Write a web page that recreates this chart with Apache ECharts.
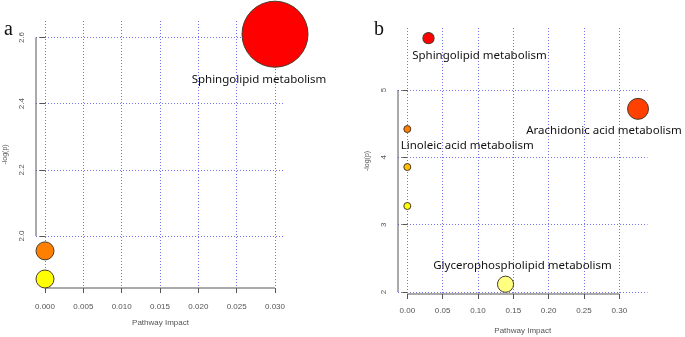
<!DOCTYPE html>
<html>
<head>
<meta charset="utf-8">
<script src="https://cdn.jsdelivr.net/npm/echarts@6/dist/echarts.min.js"></script>
<style>
  html, body { margin: 0; padding: 0; background: #fff; }
  #chart { width: 685px; height: 337px; }
</style>
</head>
<body>
<div id="chart"></div>
<script>
// panel a
const impactA = [0.030, 0.000, 0.000];
const logpA = [2.61, 1.955, 1.870];
const labelsA = ["Sphingolipid metabolism", null, null];
const xTicksA = [0, 0.005, 0.01, 0.015, 0.02, 0.025, 0.03];
const yTicksA = [2.0, 2.2, 2.4, 2.6];

// panel b
const impactB = [0.030, 0.3265, 0.000, 0.000, 0.000, 0.139];
const logpB = [5.77, 4.72, 4.42, 3.856, 3.277, 2.115];
const labelsB = [
  "Sphingolipid metabolism",
  "Arachidonic acid metabolism",
  "Linoleic acid metabolism",
  null,
  null,
  "Glycerophospholipid metabolism",
];
const xTicksB = [0, 0.05, 0.1, 0.15, 0.2, 0.25, 0.3];
const yTicksB = [2, 3, 4, 5];

// plot ranges: tick range plus R's 4% padding around the data
const xRangeA = [-0.001174, 0.031304];
const yRangeA = [1.8428, 2.6499];
const xRangeB = [-0.01316, 0.3399];
const yRangeB = [1.970, 5.921];

// R's heat.colors(n)
function heatColors(n) {
  const j = Math.floor(n / 4), i = n - j;
  const hsv = (h, s, v) => {
    const f = (k) => {
      const kk = (k + h * 6) % 6;
      return v - v * s * Math.max(0, Math.min(kk, 4 - kk, 1));
    };
    const hex = (x) => Math.round(x * 255).toString(16).padStart(2, "0");
    return "#" + hex(f(5)) + hex(f(3)) + hex(f(1));
  };
  const out = [];
  for (let k = 0; k < i; k++) out.push(hsv(i > 1 ? (k / (i - 1)) / 6 : 0, 1, 1));
  for (let k = 0; k < j; k++) {
    const s = j > 1 ? (1 - 1 / (2 * j)) - k * ((1 - 1 / j) / (j - 1)) : 1 - 1 / (2 * j);
    out.push(hsv(1 / 6, s, 1));
  }
  return out;
}

// colour by rank of -log(p), size by sqrt(impact)
function bubbles(impact, logp, labels, minD, maxD, place) {
  const pal = heatColors(logp.length);
  const order = logp.map((v, i) => i).sort((a, b) => logp[b] - logp[a]);
  const rank = [];
  order.forEach((idx, r) => (rank[idx] = r));
  const maxI = Math.max(...impact);
  return impact.map((x, i) => ({
    value: [x, logp[i]],
    symbolSize: minD + (maxD - minD) * Math.sqrt(x / maxI),
    itemStyle: { color: pal[rank[i]] },
    label: labels[i]
      ? Object.assign({ show: true, formatter: labels[i] }, place[i])
      : { show: false },
  }));
}

const gridLine = { show: true, lineStyle: { color: "#7373f2", width: 1, type: [1, 2] } };
const tickFont = { color: "#555", fontSize: 8, fontFamily: "Liberation Sans, Arial, sans-serif" };
const tickStyle = { show: true, length: 5, lineStyle: { color: "#555", width: 1 } };

function axes(gridIndex, xr, yr, xTicks, yTicks, xFmt, yFmt, xMargin, nameGapX) {
  return {
    x: {
      type: "value", gridIndex, min: xr[0], max: xr[1],
      axisLine: { show: false },
      axisTick: { ...tickStyle, customValues: xTicks },
      axisLabel: { customValues: xTicks, margin: xMargin, formatter: xFmt, ...tickFont },
      splitLine: gridLine,
      name: "Pathway Impact", nameLocation: "middle", nameGap: nameGapX,
      nameTextStyle: tickFont,
    },
    y: {
      type: "value", gridIndex, min: yr[0], max: yr[1],
      axisLine: { show: false },
      axisTick: { ...tickStyle, customValues: yTicks },
      axisLabel: { customValues: yTicks, margin: 10, rotate: 90, formatter: yFmt, ...tickFont },
      splitLine: gridLine,
      name: "-log(p)", nameLocation: "middle", nameGap: 27,
      nameTextStyle: Object.assign({}, tickFont, { fontSize: 7 }),
    },
  };
}

// R draws the axis line only from the first to the last tick
function axisLines(idx, xr, yr, xTicks, yTicks) {
  const style = { type: "line", xAxisIndex: idx, yAxisIndex: idx, symbol: "none", silent: true,
    clip: false, lineStyle: { color: "#555", width: 1 }, z: 3 };
  return [
    { ...style, data: [[xTicks[0], yr[0]], [xTicks[xTicks.length - 1], yr[0]]] },
    { ...style, data: [[xr[0], yTicks[0]], [xr[0], yTicks[yTicks.length - 1]]] },
  ];
}

const a = axes(0, xRangeA, yRangeA, xTicksA, yTicksA, (v) => v.toFixed(3), (v) => v.toFixed(1), 15, 31);
const b = axes(1, xRangeB, yRangeB, xTicksB, yTicksB, (v) => v.toFixed(2), (v) => String(Math.round(v)), 13, 33);

const labelFont = { color: "#111", fontSize: 11.5, fontFamily: "Noto Sans, Open Sans, sans-serif" };
const placeA = [{ position: "bottom", distance: 6, offset: [-16, 0], ...labelFont }];
const placeB = [
  { position: "bottom", distance: 5, offset: [51, 0], ...labelFont },
  { position: "bottom", distance: 5, offset: [-34, 0], ...labelFont },
  { position: "bottom", distance: 7, offset: [60, 0], ...labelFont },
  null,
  null,
  { position: "top", distance: 4, offset: [17, 0], ...labelFont },
];

const chart = echarts.init(document.getElementById("chart"), null, { renderer: "canvas" });
chart.setOption({
  animation: false,
  backgroundColor: "#fff",
  grid: [
    { left: 36, right: 400, top: 21, bottom: 49, containLabel: false, outerBoundsMode: "none" },
    { left: 398, right: 37.5, top: 28, bottom: 43, containLabel: false, outerBoundsMode: "none" },
  ],
  xAxis: [a.x, b.x],
  yAxis: [a.y, b.y],
  graphic: [
    { type: "text", left: 4, top: 20, style: { text: "a", font: "20px Liberation Serif", fill: "#111" } },
    { type: "text", left: 374, top: 20, style: { text: "b", font: "20px Liberation Serif", fill: "#111" } },
  ],
  series: [
    ...axisLines(0, xRangeA, yRangeA, xTicksA, yTicksA),
    ...axisLines(1, xRangeB, yRangeB, xTicksB, yTicksB),
    {
      type: "scatter", xAxisIndex: 0, yAxisIndex: 0, clip: false, z: 4,
      itemStyle: { borderColor: "#4a3a2a", borderWidth: 1, opacity: 1 },
      data: bubbles(impactA, logpA, labelsA, 18, 66, placeA),
    },
    {
      type: "scatter", xAxisIndex: 1, yAxisIndex: 1, clip: false, z: 4,
      itemStyle: { borderColor: "#4a3a2a", borderWidth: 1, opacity: 1 },
      data: bubbles(impactB, logpB, labelsB, 7, 21, placeB),
    },
  ],
});
</script>
</body>
</html>
